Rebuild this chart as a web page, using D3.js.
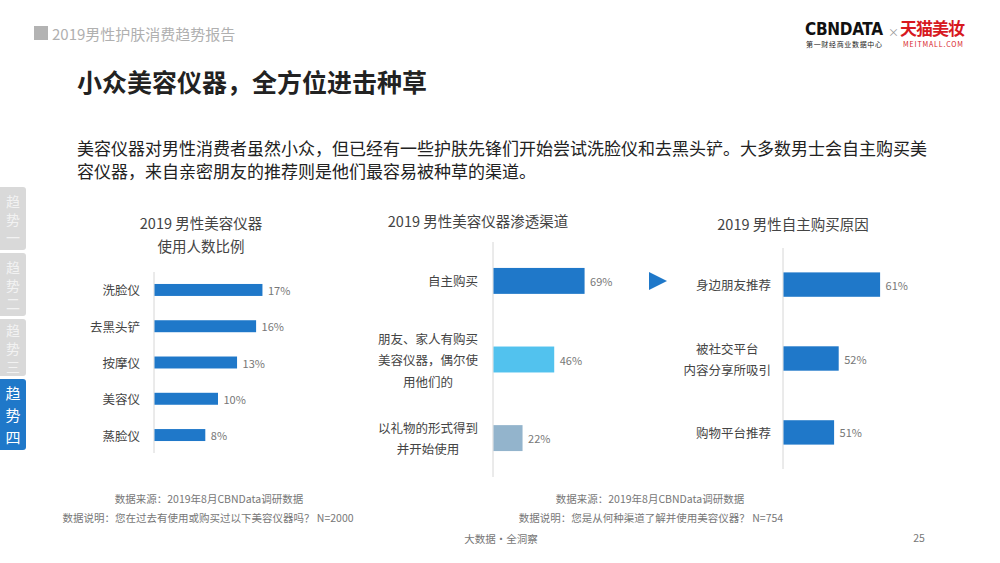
<!DOCTYPE html>
<html>
<head>
<meta charset="utf-8">
<script src="https://cdn.jsdelivr.net/npm/d3@7"></script>
<style>
  body { margin: 0; background: #fff; }
  svg { display: block; font-family: "Noto Sans CJK SC", "Noto Sans", sans-serif; }
</style>
</head>
<body>
<svg id="chart" width="1000" height="563"></svg>
<script>
// Data
const usageItems = ['洗脸仪', '去黑头铲', '按摩仪', '美容仪', '蒸脸仪'];
const usageValues = [17, 16, 13, 10, 8];

const channelItems = ['自主购买', '朋友、家人有购买\n美容仪器，偶尔使\n用他们的', '以礼物的形式得到\n并开始使用'];
const channelValues = [69, 46, 22];

const reasonItems = ['身边朋友推荐', '被社交平台\n内容分享所吸引', '购物平台推荐'];
const reasonValues = [61, 52, 51];

const tabs = ['趋势一', '趋势二', '趋势三', '趋势四'];

const blue = '#1f78c9';
const svg = d3.select('#chart');

// header
svg.append('rect').attr('x', 34).attr('y', 26).attr('width', 14).attr('height', 14).attr('fill', '#b3b3b3');
svg.append('text').attr('x', 52).attr('y', 33).attr('dominant-baseline', 'central')
    .style('font-size', '15px').attr('fill', '#b0b0b0').text('2019男性护肤消费趋势报告');

svg.append('text').attr('x', 77).attr('y', 81).attr('dominant-baseline', 'central')
    .style('font-size', '25px').style('font-weight', 'bold').attr('fill', '#222').text('小众美容仪器，全方位进击种草');

const para = ['美容仪器对男性消费者虽然小众，但已经有一些护肤先锋们开始尝试洗脸仪和去黑头铲。大多数男士会自主购买美',
              '容仪器，来自亲密朋友的推荐则是他们最容易被种草的渠道。'];
para.forEach((line, i) => {
    svg.append('text').attr('x', 77).attr('y', 147 + i * 23).attr('dominant-baseline', 'central')
        .style('font-size', '17px').attr('fill', '#222').text(line);
});

// logo
const logo = svg.append('g');
logo.append('text').attr('x', 805).attr('y', 29).attr('dominant-baseline', 'central')
    .style('font-size', '17px').style('font-weight', 'bold').style('font-family', '"DejaVu Sans Condensed", sans-serif')
    .attr('fill', '#111').attr('textLength', 78).text('CBNDATA');
logo.append('text').attr('x', 888).attr('y', 32).attr('dominant-baseline', 'central')
    .style('font-size', '11px').attr('fill', '#999').text('×');
logo.append('text').attr('x', 900).attr('y', 27).attr('dominant-baseline', 'central')
    .style('font-size', '17px').style('font-weight', 'bold').attr('fill', '#d7191f').attr('textLength', 65).text('天猫美妆');
logo.append('text').attr('x', 806).attr('y', 44).attr('dominant-baseline', 'central')
    .style('font-size', '7px').attr('fill', '#222').attr('textLength', 76).text('第一财经商业数据中心');
logo.append('text').attr('x', 903).attr('y', 44).attr('dominant-baseline', 'central')
    .style('font-size', '7px').attr('fill', '#d7191f').attr('textLength', 60).text('MEITMALL.COM');

// side tabs
const tabY = [187, 253, 319, 379];
const tabH = [63, 63, 57, 71];
tabs.forEach((t, i) => {
    const active = i === 3;
    svg.append('path')
        .attr('d', `M0,${tabY[i]} h23 a3,3 0 0 1 3,3 v${tabH[i] - 6} a3,3 0 0 1 -3,3 h-23 z`)
        .attr('fill', active ? blue : '#d9d9d9');
    const step = active ? 22 : 18;
    const start = tabY[i] + tabH[i] / 2 - step;
    t.split('').forEach((ch, k) => {
        svg.append('text').attr('x', 13).attr('y', start + k * step).attr('text-anchor', 'middle')
            .attr('dominant-baseline', 'central')
            .style('font-size', active ? '15px' : '14px').attr('fill', active ? '#fff' : '#f2f2f2').text(ch);
    });
});

// bar chart helper
function barChart(o) {
    const g = svg.append('g');
    const y = d3.scaleBand().domain(o.items).range(o.yRange).paddingInner(0.67).paddingOuter(0.33);
    const x = d3.scaleLinear().domain(o.xDomain).range([o.x0, o.x0 + o.width]);

    o.titles.forEach((t, i) => {
        g.append('text').attr('x', o.titleX).attr('y', o.titleY + i * 23).attr('text-anchor', 'middle')
            .attr('dominant-baseline', 'central').style('font-size', '14.5px').attr('fill', '#444').text(t);
    });

    g.append('line').attr('x1', o.x0).attr('x2', o.x0).attr('y1', o.yRange[0]).attr('y2', o.yRange[1])
        .attr('stroke', '#d6d6d6').attr('stroke-width', 1);

    g.selectAll('rect.bar').data(o.values).enter().append('rect')
        .attr('class', 'bar')
        .attr('x', o.x0 + 0.5)
        .attr('y', (d, i) => y(o.items[i]))
        .attr('width', d => x(d) - o.x0)
        .attr('height', y.bandwidth())
        .attr('fill', (d, i) => o.colors[i]);

    g.selectAll('text.val').data(o.values).enter().append('text')
        .attr('class', 'val')
        .attr('x', d => x(d) + 6)
        .attr('y', (d, i) => y(o.items[i]) + y.bandwidth() / 2)
        .attr('dominant-baseline', 'central')
        .style('font-size', '11px').attr('fill', '#777')
        .text(d => d + '%');

    o.items.forEach(item => {
        const lines = item.split('\n');
        const cy = y(item) + y.bandwidth() / 2;
        const lab = g.append('g');
        lines.forEach((line, k) => {
            lab.append('text')
                .attr('y', cy + (k - (lines.length - 1) / 2) * o.lineH)
                .attr('dominant-baseline', 'central')
                .attr('text-anchor', 'middle')
                .style('font-size', '12.5px').attr('fill', '#444')
                .text(line);
        });
        // centre multi-line blocks, right-align the block
        const w = d3.max(lab.selectAll('text').nodes(), n => n.getComputedTextLength());
        lab.selectAll('text').attr('x', o.labelRight - w / 2);
    });
}

barChart({
    items: usageItems, values: usageValues, colors: usageValues.map(() => blue),
    yRange: [272, 453], xDomain: [0, 20], x0: 154, width: 127,
    titles: ['2019 男性美容仪器', '使用人数比例'], titleX: 201, titleY: 222,
    labelRight: 140, lineH: 21
});

barChart({
    items: channelItems, values: channelValues, colors: [blue, '#52c2ee', '#93b4cc'],
    yRange: [242, 477], xDomain: [0, 100], x0: 493, width: 132,
    titles: ['2019 男性美容仪器渗透渠道'], titleX: 478, titleY: 220,
    labelRight: 478, lineH: 21.5
});

barChart({
    items: reasonItems, values: reasonValues, colors: reasonValues.map(() => blue),
    yRange: [248, 469], xDomain: [40, 70], x0: 783, width: 138,
    titles: ['2019 男性自主购买原因'], titleX: 793, titleY: 223,
    labelRight: 771, lineH: 21
});

// arrow
svg.append('path').attr('d', 'M649,272 L667,281 L649,290 Z').attr('fill', blue);

// footnotes
const notes = [
    [209, 498, '数据来源：2019年8月CBNData调研数据'],
    [208, 517, '数据说明：您在过去有使用或购买过以下美容仪器吗？ N=2000'],
    [650, 498, '数据来源：2019年8月CBNData调研数据'],
    [651, 517, '数据说明：您是从何种渠道了解并使用美容仪器？ N=754'],
    [501, 538, '大数据·全洞察'],
    [919, 537, '25']
];
notes.forEach(n => {
    svg.append('text').attr('x', n[0]).attr('y', n[1]).attr('text-anchor', 'middle')
        .attr('dominant-baseline', 'central').style('font-size', '10.5px').attr('fill', '#777').text(n[2]);
});
</script>
</body>
</html>
